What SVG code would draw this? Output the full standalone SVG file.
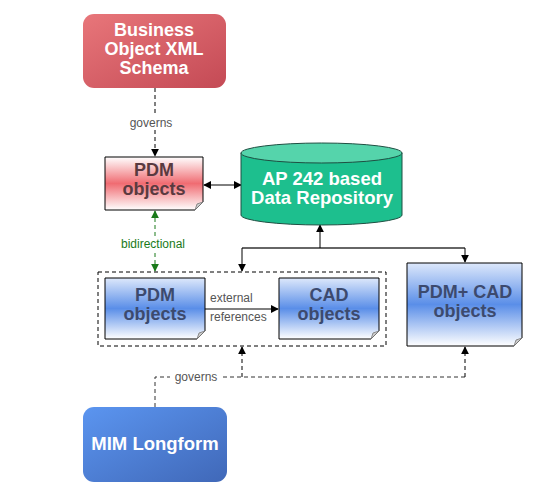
<svg xmlns="http://www.w3.org/2000/svg" width="534" height="489" viewBox="0 0 534 489">
<defs>
<linearGradient id="gBiz" x1="0" y1="0" x2="1" y2="1">
<stop offset="0" stop-color="#e8767a"/><stop offset="1" stop-color="#c44a55"/>
</linearGradient>
<linearGradient id="gMim" x1="0" y1="0" x2="1" y2="1">
<stop offset="0" stop-color="#5b95f0"/><stop offset="1" stop-color="#4068b8"/>
</linearGradient>
<linearGradient id="gRed" x1="0" y1="0" x2="0" y2="1">
<stop offset="0" stop-color="#ffffff"/><stop offset="0.5" stop-color="#f06c72"/><stop offset="1" stop-color="#ffffff"/>
</linearGradient>
<linearGradient id="gBlue" x1="0" y1="0" x2="0" y2="1">
<stop offset="0" stop-color="#dde8fb"/><stop offset="0.5" stop-color="#5a8ee8"/><stop offset="1" stop-color="#ffffff"/>
</linearGradient>
<marker id="ah" viewBox="0 0 10 10" refX="9" refY="5" markerWidth="8" markerHeight="8" orient="auto-start-reverse" markerUnits="userSpaceOnUse">
<path d="M0,0 L10,5 L0,10 z" fill="#000"/>
</marker>
<marker id="ahg" viewBox="0 0 10 10" refX="9" refY="5" markerWidth="8" markerHeight="8" orient="auto-start-reverse" markerUnits="userSpaceOnUse">
<path d="M0,0 L10,5 L0,10 z" fill="#1a7a1a"/>
</marker>
</defs>
<style>
.doc{stroke:#000;stroke-width:1}
.ttl{font-family:"Liberation Sans",Arial,sans-serif;font-weight:bold;text-anchor:middle}
.lbl{font-family:"Liberation Sans",Arial,sans-serif;font-size:12px;fill:#555}
.dash{fill:none;stroke:#000;stroke-width:1;stroke-dasharray:4,3}
.solid{fill:none;stroke:#000;stroke-width:1}
.gray{fill:none;stroke:#666;stroke-width:2}
.fold{fill:#ccc;stroke:#777;stroke-width:0.8}
</style>
<rect width="534" height="489" fill="#fff"/>

<g id="connectors">
<line class="dash" x1="155" y1="88" x2="155" y2="156" marker-end="url(#ah)"/>
<rect x="124" y="115" width="54" height="14" fill="#fff"/>
<text class="lbl" x="151" y="127" text-anchor="middle">governs</text>
<line class="solid" x1="204" y1="185" x2="241" y2="185" marker-start="url(#ah)" marker-end="url(#ah)"/>
<line class="dash" x1="155" y1="211" x2="155" y2="271" style="stroke:#1a7a1a" marker-start="url(#ahg)" marker-end="url(#ahg)"/>
<rect x="115" y="236" width="78" height="14" fill="#fff"/>
<text class="lbl" x="153" y="248" text-anchor="middle" style="fill:#1a7a1a">bidirectional</text>
<polyline class="gray" points="242,248 465,248"/>
<line class="solid" x1="320" y1="248" x2="320" y2="225" marker-end="url(#ah)"/>
<line class="solid" x1="242" y1="248" x2="242" y2="271" marker-end="url(#ah)"/>
<line class="solid" x1="465" y1="248" x2="465" y2="262" marker-end="url(#ah)"/>
<line class="solid" x1="205" y1="309" x2="278" y2="309" marker-end="url(#ah)"/>
<text class="lbl" x="210" y="302">external</text>
<text class="lbl" x="210" y="321">references</text>
<polyline class="dash" points="155,407 155,377 465,377" style="stroke:#333"/>
<line class="dash" x1="242" y1="377" x2="242" y2="347" marker-end="url(#ah)"/>
<line class="dash" x1="465" y1="377" x2="465" y2="347" marker-end="url(#ah)"/>
<rect x="170" y="370" width="52" height="14" fill="#fff"/>
<text class="lbl" x="196" y="381" text-anchor="middle">governs</text>
</g>

<g id="biz">
<rect x="83" y="14" width="143" height="74" rx="11" fill="url(#gBiz)"/>
<text class="ttl" x="154" y="36" font-size="18" fill="#fff">Business</text>
<text class="ttl" x="154" y="55" font-size="18" fill="#fff">Object XML</text>
<text class="ttl" x="154" y="74" font-size="18" fill="#fff">Schema</text>
</g>

<g id="pdm-red">
<path class="doc" d="M105,157 H203 V202 L195,210 H105 Z" fill="url(#gRed)"/>
<path class="fold" d="M195,210 L197,204 L203,202 Z"/>
<text class="ttl" x="154" y="176" font-size="18" fill="#5a3a40">PDM</text>
<text class="ttl" x="154" y="195" font-size="18" fill="#5a3a40">objects</text>
</g>

<g id="repo">
<path d="M241,153 V215 A80.5,10 0 0 0 402,215 V153 Z" fill="#1dbf8e" stroke="#1e4f42" stroke-width="1"/>
<ellipse cx="321.5" cy="153" rx="80.5" ry="10" fill="#55d4ab" stroke="#1e4f42" stroke-width="1"/>
<text class="ttl" x="322" y="185" font-size="18.5" fill="#fff">AP 242 based</text>
<text class="ttl" x="322" y="204" font-size="18.5" fill="#fff">Data Repository</text>
</g>

<g id="group">
<rect x="98" y="272" width="288" height="74" fill="none" stroke="#000" stroke-width="1" stroke-dasharray="4,3"/>
</g>

<g id="pdm-blue">
<path class="doc" d="M105,278 H205 V331 L197,339 H105 Z" fill="url(#gBlue)"/>
<path class="fold" d="M197,339 L199,333 L205,331 Z"/>
<text class="ttl" x="155" y="301" font-size="18" fill="#3c4a6e">PDM</text>
<text class="ttl" x="155" y="320" font-size="18" fill="#3c4a6e">objects</text>
</g>

<g id="cad">
<path class="doc" d="M279,278 H379 V331 L371,339 H279 Z" fill="url(#gBlue)"/>
<path class="fold" d="M371,339 L373,333 L379,331 Z"/>
<text class="ttl" x="329" y="301" font-size="18" fill="#3c4a6e">CAD</text>
<text class="ttl" x="329" y="320" font-size="18" fill="#3c4a6e">objects</text>
</g>

<g id="pdmcad">
<path class="doc" d="M407,263 H522 V338 L514,346 H407 Z" fill="url(#gBlue)"/>
<path class="fold" d="M514,346 L516,340 L522,338 Z"/>
<text class="ttl" x="465" y="298" font-size="18" fill="#3c4a6e">PDM+ CAD</text>
<text class="ttl" x="465" y="317" font-size="18" fill="#3c4a6e">objects</text>
</g>

<g id="mim">
<rect x="83" y="407" width="144" height="75" rx="11" fill="url(#gMim)"/>
<text class="ttl" x="155" y="450" font-size="18.5" fill="#fff">MIM Longform</text>
</g>
</svg>
